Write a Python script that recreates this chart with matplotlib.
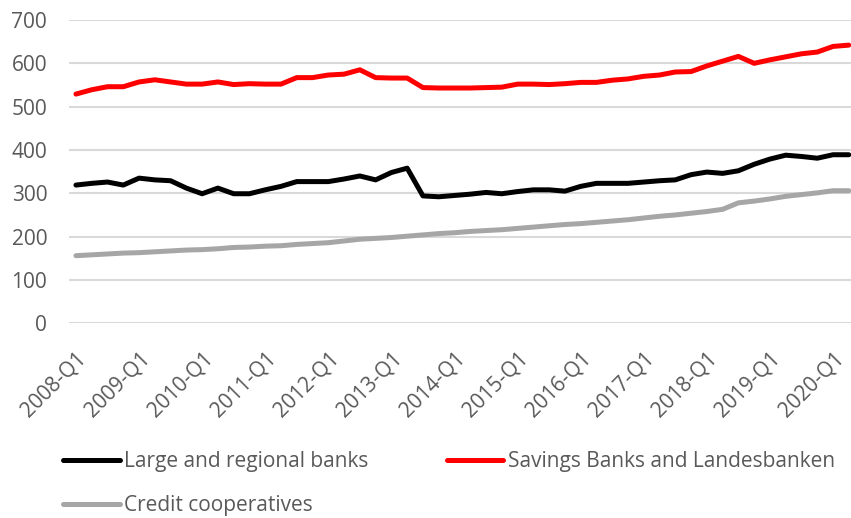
import matplotlib.pyplot as plt

plt.rcParams['font.family'] = ['Open Sans', 'DejaVu Sans']

# quarterly, 2008-Q1 .. 2020-Q2
quarters = [f"{y}-Q{q}" for y in range(2008, 2021) for q in range(1, 5)][:50]

large_regional = [319, 323, 326, 319, 335, 331, 329, 312, 299, 312,
                  299, 299, 308, 316, 327, 327, 327, 333, 340, 331,
                  348, 358, 294, 292, 295, 298, 302, 299, 304, 308,
                  308, 305, 316, 323, 323, 323, 326, 329, 331, 343,
                  349, 346, 352, 367, 379, 388, 385, 381, 389, 389]

savings_landesbanken = [529, 539, 546, 546, 557, 562, 557, 552, 552, 557,
                        551, 553, 552, 552, 567, 567, 573, 575, 585, 567,
                        566, 566, 544, 543, 543, 543, 544, 545, 552, 552,
                        551, 553, 556, 556, 561, 564, 570, 573, 580, 581,
                        594, 605, 616, 600, 608, 615, 622, 626, 639, 642]

credit_coops = [156, 158, 160, 162, 163, 165, 167, 169, 170, 172,
                175, 176, 178, 179, 182, 184, 186, 190, 194, 196,
                198, 201, 204, 207, 209, 212, 214, 216, 219, 222,
                225, 228, 230, 233, 236, 239, 243, 247, 250, 254,
                258, 263, 278, 282, 287, 293, 297, 301, 306, 306]

fig = plt.figure(figsize=(8.51, 5.18), dpi=100)
ax = fig.add_axes([0.0811, 0.3759, 0.9189, 0.5855])

x = list(range(len(quarters)))
lw = 3.6
l1, = ax.plot(x, large_regional, color='black', lw=lw, solid_joinstyle='round',
              solid_capstyle='round', label='Large and regional banks')
l2, = ax.plot(x, savings_landesbanken, color='#ff0000', lw=lw, solid_joinstyle='round',
              solid_capstyle='round', label='Savings Banks and Landesbanken')
l3, = ax.plot(x, credit_coops, color='#a6a6a6', lw=lw, solid_joinstyle='round',
              solid_capstyle='round', label='Credit cooperatives')

ax.set_xlim(-0.44, 49.14)
ax.set_ylim(0, 700)
ax.set_yticks(range(0, 701, 100))
ax.yaxis.grid(True, color='#d9d9d9', lw=1.5)
ax.set_axisbelow(True)
for s in ax.spines.values():
    s.set_visible(False)

ax.set_xticks(x[::4])
ax.set_xticklabels(quarters[::4], rotation=45, ha='right', rotation_mode='anchor')
ax.tick_params(axis='both', length=0, labelsize=15, colors='#595959')
ax.tick_params(axis='y', pad=15.7)
ax.tick_params(axis='x', pad=17.5)

leg = fig.legend([l1, l3, l2], [l1.get_label(), l3.get_label(), l2.get_label()],
                 ncol=2, loc='upper left', bbox_to_anchor=(0.0745, 0.129),
                 frameon=False, fontsize=15, handlelength=2.7, handletextpad=0.22,
                 columnspacing=3.75, labelspacing=1.09, borderaxespad=0,
                 borderpad=0)
for t in leg.get_texts():
    t.set_color('#595959')

plt.savefig('out.png', dpi=100)
